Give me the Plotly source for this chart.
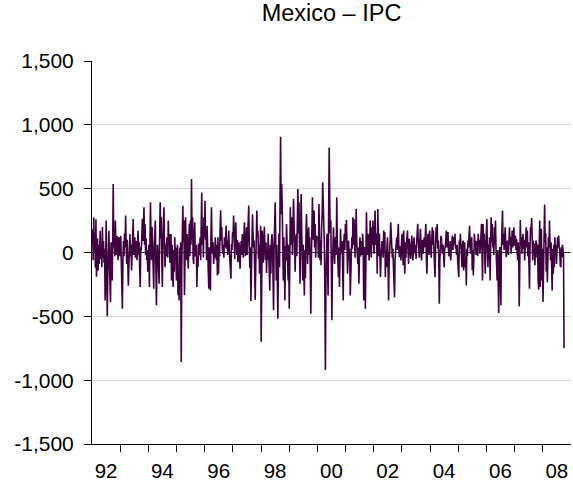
import pandas as pd
import plotly.graph_objects as go

# Weekly changes of the Mexican IPC index, one list per calendar year
w1992 = [70, 180, -60, 275, 20, 150, -120, 260, -190, 40, 110, -140, 60, -90, 120, 170, -50, 60, -115, 200,
         -40, 90, -80, 30, -375, -100, 250, -200, -500, -150, 60, 170, -90, -240, -390, 80, -60, -220, 30, 536,
         40, 120, -30, 250, 60, -20, 130, 10, -60, 110, 120, -30]
w1993 = [60, 130, -80, -200, -440, -50, 90, -30, 150, 40, 290, 60, -90, 100, -40, -260, -110, 50, 145, -30,
         60, -140, 20, 90, 263, -20, 70, 120, -40, 30, 90, -60, 40, 170, -20, 80, -120, -270, 40, 15,
         130, 263, 90, 200, 354, 60, 224, -20, 110, -60, 20, -150]
w1994 = [60, -270, 100, 393, 120, -60, 200, 30, -120, -284, 40, 130, 250, -100, -414, -90, 60, -20, -120, -245,
         140, 393, 110, 280, -60, -270, 90, 200, 354, 40, -115, 60, -30, 90, 120, -40, 250, 80, 145, -80,
         40, 145, -220, 60, -120, -270, 20, -150, 120, -60, 40, -220]
w1995 = [-167, 60, -335, -120, -375, 40, -200, 80, -857, -100, 150, 367, 80, 250, -335, 30, 276, 40, -60, 145,
         20, -128, 90, 224, -30, 250, 60, 575, 100, 276, -40, -90, 120, 237, -30, 0, 60, -270, -40, -115,
         70, -20, 15, 120, -60, 220, 470, 60, 198, -40, 276, 120]
w1996 = [406, 100, 172, -60, 210, 20, -150, -284, 42, -100, -297, 120, 354, 50, -10, 80, -90, 30, -40, 120,
         20, -60, 60, -180, 120, -167, 40, -30, 198, 330, 90, 200, 20, -10, 60, -40, 120, 40, 90, 210,
         30, 94, -20, 60, 172, 20, -60, -140, -206, 68, 20, 160]
w1997 = [120, 290, 40, -50, 150, 237, 60, -20, 100, -76, 30, 80, -40, -128, 20, 90, -20, 145, 40, -40,
         110, 237, 50, -30, 110, 198, -20, 90, 200, 367, 60, -120, 40, -380, -150, 100, 300, 150, 40, 94,
         -80, -370, -100, 60, 328, 120, 172, -50, 60, -167, 90, 210]
w1998 = [-700, -200, 172, 40, -80, 100, 203, 30, -60, 80, -160, 20, -60, 146, 20, -30, -300, 60, -167, 80,
         145, 68, -120, -453, 40, 200, 393, 100, -219, 60, -200, -518, -100, 150, -115, 200, 906, 300, 536, 354,
         -100, -219, 120, -323, -375, 50, -63, 224, 40, -100, -219, 60]
w1999 = [-440, -100, 354, 60, 150, 276, -20, 130, 420, 200, 10, -150, 80, 146, -30, 200, 497, 150, 393, 60,
         -245, 100, 458, 200, 42, -219, 60, -115, -336, 20, -200, 150, 302, 94, -89, 120, 198, -20, 120, -150,
         -480, -60, 200, 432, 100, 250, 328, 40, 224, -40, 130, 120]
w2000 = [120, -40, 380, 150, -60, 94, -100, 200, 300, 550, 406, 100, 68, -300, -920, -200, 60, 146, -100, -336,
         300, 823, 406, 150, 250, -200, -531, -100, 100, 198, 40, -89, 60, 120, -20, 432, 100, -50, -193, 40,
         -270, -60, 185, 30, -10, 90, -150, -375, 80, 146, 20, 224]
w2001 = [100, 255, 40, -167, -40, 94, -60, 30, -336, -80, -10, 120, 30, 276, 60, 263, 94, -40, 120, 341,
         100, -20, -89, 40, -245, -40, 120, -30, 42, 90, -20, 146, 40, -375, -80, 42, -440, 60, 315, 100,
         -20, 146, 40, -63, 80, 250, 60, -40, 198, 60, 250, 80]
w2002 = [-10, 120, 328, 60, 150, 94, -167, 341, 60, -30, 146, 20, -193, -40, 16, 90, 42, -40, 172, 60,
         160, -193, 20, -115, 40, 120, -60, -375, -80, -10, 100, 237, 60, 42, -40, 30, -115, -200, -350, -60,
         -10, 60, 120, 20, 90, 224, 40, -36, 50, -20, -63, 80]
w2003 = [146, 40, -100, 172, 60, -167, 80, -40, 60, 100, 172, 20, -89, 107, 30, -20, -50, 60, 133, 20,
         -63, 40, 120, 30, -10, 60, -50, 80, 140, 224, 90, 42, -40, 100, 185, 60, -63, 30, 100, -10,
         50, 120, 40, 150, 224, -40, -167, 40, 146, 60, -20, 172]
w2004 = [60, 42, -40, 100, 198, 60, 172, 20, -63, -193, 40, 198, 80, 224, 30, 94, -60, -401, -50, 42,
         130, 107, 20, -10, 60, -40, -115, 30, 42, 100, 172, 40, 80, 160, 20, -30, 0, 90, -63, 40,
         100, 133, 20, 55, 120, 60, 146, 30, 42, -20, 60, -63]
w2005 = [-193, 94, 30, 146, 40, -60, -115, 60, 94, -140, 20, 80, -115, -40, -258, 30, -30, 94, 40, 130,
         210, 60, -10, 60, 120, -140, 20, -180, 40, 146, 60, 94, -20, 42, 90, -30, 146, 60, 100, -10,
         40, 120, 224, -60, -219, 224, 60, 146, 30, -167, 40, 250]
w2006 = [263, 40, -115, 60, -40, 120, -219, 60, 276, 80, 224, 40, 130, -20, 198, 60, 250, 30, -80, -219,
         20, -160, -474, -40, 42, -100, -414, 40, 200, 328, 60, 146, 20, 90, 198, 60, -36, 40, 94, 30,
         -20, 100, 198, 60, 120, -10, 80, 172, 40, 120, 198, 60]
w2007 = [60, 133, 20, 107, 40, -60, 80, -10, -422, -60, 255, 60, 120, -10, 40, 146, 30, 100, -63, 40,
         120, 198, 40, 172, -30, 80, -100, -284, 60, 200, 172, 270, 40, -63, 94, 20, 68, -100, 20, 94,
         68, -40, 60, -219, -292, 60, 250, -271, 40, 185, -219, 30]
w2008 = [-388, -60, 150, 375, 80, 150, -150, 40, -232, 20, 120, 40, 250, 60, -63, 80, -200, -297, 30, -167,
         60, -115, 120, -10, 60, -89, 15, 120, 40, 133, 42, 15, -101, -115, 40, -36, 60, 15, -20, -750]

weekly = {
    1992: w1992, 1993: w1993, 1994: w1994, 1995: w1995, 1996: w1996, 1997: w1997,
    1998: w1998, 1999: w1999, 2000: w2000, 2001: w2001, 2002: w2002, 2003: w2003,
    2004: w2004, 2005: w2005, 2006: w2006, 2007: w2007, 2008: w2008,
}

y_ticks = [-1500, -1000, -500, 0, 500, 1000, 1500]
y_labels = ["-1,500", "-1,000", "-500", "0", "500", "1,000", "1,500"]
label_years = [1992, 1994, 1996, 1998, 2000, 2002, 2004, 2006, 2008]
year_labels = ["92", "94", "96", "98", "00", "02", "04", "06", "08"]

# each year's values fall on that year's Fridays
dates, values = [], []
for year, vals in weekly.items():
    fridays = pd.date_range(f"{year}-01-01", periods=len(vals), freq="W-FRI")
    dates.extend(fridays)
    values.extend(vals)

font_family = "Liberation Sans, Arial, sans-serif"

fig = go.Figure(
    go.Scatter(
        x=dates,
        y=values,
        mode="lines",
        line=dict(color="#3f0040", width=1.6),
        hoverinfo="x+y",
    )
)

fig.update_layout(
    width=573,
    height=482,
    margin=dict(l=92, r=2, t=61, b=38),
    paper_bgcolor="white",
    plot_bgcolor="white",
    showlegend=False,
    font=dict(family=font_family, color="black"),
    title=dict(
        text="Mexico – IPC",
        x=0.5,
        xref="paper",
        xanchor="center",
        y=1 - 5 / 482,
        yref="container",
        yanchor="top",
        font=dict(family=font_family, size=23.5, color="black"),
    ),
)

fig.update_yaxes(
    range=[-1500, 1500],
    automargin=False,
    tickmode="array",
    tickvals=y_ticks,
    ticktext=y_labels,
    ticks="outside",
    ticklen=7,
    tickwidth=1,
    tickcolor="black",
    ticklabelstandoff=6,
    tickfont=dict(size=21, family=font_family, color="black"),
    showline=True,
    linecolor="black",
    linewidth=1,
    showgrid=True,
    gridcolor="#d9d9d9",
    gridwidth=1,
    zeroline=True,
    zerolinecolor="#333333",
    zerolinewidth=1,
)

fig.update_xaxes(
    type="date",
    range=["1992-01-01", "2009-01-01"],
    automargin=False,
    tickmode="array",
    tickvals=[f"{y}-07-01" for y in label_years],
    ticktext=year_labels,
    ticks="",
    ticklabelstandoff=8,
    tickfont=dict(size=20.5, family=font_family, color="black"),
    showline=True,
    linecolor="black",
    linewidth=1,
    showgrid=False,
    zeroline=False,
    minor=dict(
        tickmode="array",
        tickvals=[f"{y}-01-01" for y in range(1993, 2009)],
        ticks="outside",
        ticklen=7,
        tickwidth=1,
        tickcolor="black",
        showgrid=False,
    ),
)

fig.write_html("out.html")
